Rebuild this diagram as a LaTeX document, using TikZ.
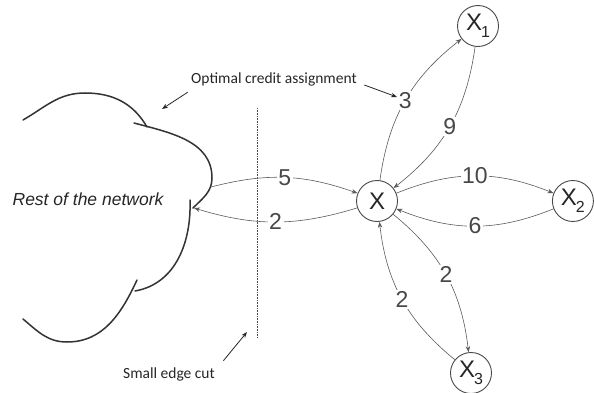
\documentclass[tikz,border=0pt]{standalone}
\usepackage{fontspec}
\setmainfont{Liberation Sans}
\newfontfamily\notefont{Carlito}
\usepackage{xcolor}
\usetikzlibrary{arrows.meta,positioning}

\definecolor{linkgray}{HTML}{5A5A5A}
\definecolor{labelgray}{HTML}{484848}
\definecolor{cloudgray}{HTML}{333333}

% variable with a subscript, as X_1
\newcommand{\varsub}[1]{X\kern-0.04em\raisebox{-0.3em}{\fontsize{16}{16}\selectfont #1}}

\tikzset{
  var/.style={circle, draw=labelgray, line width=0.9pt, minimum size=41pt,
    inner sep=0pt, text=black!85, font=\fontsize{24}{24}\selectfont},
  weight/.style={fill=white, inner sep=1.5pt, text=labelgray,
    font=\fontsize{23}{23}\selectfont},
  link/.style={-{Stealth[length=6pt,width=4.5pt]}, draw=linkgray, line width=0.6pt,
    bend left=22},
  note/.style={font=\notefont\fontsize{15.5}{17}\selectfont, text=black!85},
  pointer/.style={-{Stealth[length=6pt,width=4.5pt]}, line width=0.8pt, black!85},
  cloud/.style={line width=1.5pt, draw=cloudgray, line cap=round},
}

\begin{document}
\begin{tikzpicture}[x=1pt,y=1pt]
\useasboundingbox (0,0) rectangle (594,-393);

% the rest of the network
\draw[cloud] (23,-120) to[out=30,in=180] (85,-93) to[out=0,in=120] (147,-127);
\draw[cloud] (134,-123) to[out=-15,in=90] (212,-178) to[out=-90,in=45] (193,-208);
\draw[cloud] (190,-200) to[out=-88,in=10] (135,-291);
\draw[cloud] (137,-280) to[out=-115,in=0] (67,-342) to[out=180,in=-40] (23,-319);
\node[font=\itshape\fontsize{17.5}{17.5}\selectfont, text=black!85] (rest) at (88,-199) {Rest of the network};

\coordinate (cl5) at (211,-187);
\coordinate (cl2) at (194,-208);

% the cut
\draw[densely dotted, line width=0.6pt, black!70] (257,-108) -- (257,-338);

\node[var] (vx) at (377,-201) {X};
\node[var] (vx1) at (478,-26) {\varsub{1}};
\node[var, right=154pt of vx] (vx2) {\varsub{2}};
\node[var] (vx3) at (471,-373) {\varsub{3}};

\path
  (cl5) edge [link, bend left=17] node[weight] {5} (vx)
  (vx)  edge [link, bend left=17] node[weight] {2} (cl2)
  (vx)  edge [link] node[weight] {3} (vx1)
  (vx1) edge [link] node[weight] {9} (vx)
  (vx)  edge [link] node[weight] {10} (vx2)
  (vx2) edge [link] node[weight] {6} (vx)
  (vx)  edge [link] node[weight] {2} (vx3)
  (vx3) edge [link] node[weight] {2} (vx)
;

% notes
\node[note] (credit) at (274,-79) {Optimal credit assignment};
\node[note] (cut) at (169,-374) {Small edge cut};
\coordinate (credit-l) at (162,-109);
\coordinate (credit-r) at (397,-97);
\coordinate (cut-tip) at (247,-332);

\draw[pointer] ([yshift=-3pt]credit.south west) -- (credit-l);
\draw[pointer] ([xshift=4pt,yshift=-6pt]credit.east) -- (credit-r);
\draw[pointer] ([xshift=5pt,yshift=3pt]cut.north east) -- (cut-tip);
\end{tikzpicture}
\end{document}
